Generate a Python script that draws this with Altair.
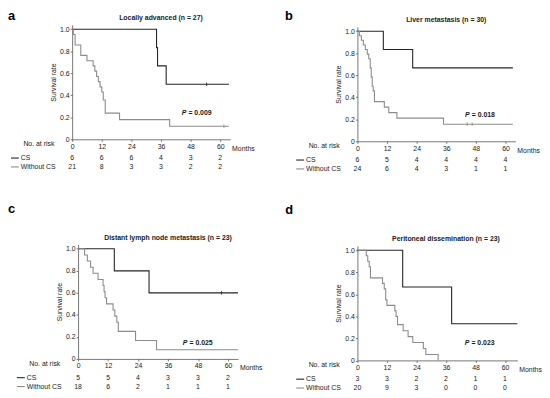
import altair as alt
import pandas as pd

FONT = "Liberation Sans"
CS_COLOR = "#262626"
WO_COLOR = "#8c8c8c"
TXT = "#1a1a1a"
AX = "#555555"

month_ticks = [0, 12, 24, 36, 48, 60]
survival_ticks = [0, 0.2, 0.4, 0.6, 0.8, 1.0]
groups = ["CS", "Without CS"]

# ---- panel a: Locally advanced
a_cs_t = [0, 34.2, 34.6, 38.1, 63.5]
a_cs_s = [1.0, 0.833, 0.667, 0.5, 0.5]
a_wo_t = [0, 0.5, 1.2, 3.5, 6.0, 8.5, 9.2, 9.9, 10.6, 11.3, 12.0, 12.6, 13.4, 19.2, 39.5, 63.5]
a_wo_s = [1.0, 0.952, 0.857, 0.762, 0.714, 0.667, 0.619, 0.571, 0.524, 0.476, 0.429, 0.357, 0.238, 0.179, 0.119, 0.119]
a_cs_cens_t, a_cs_cens_s = [54.5], [0.5]
a_wo_cens_t, a_wo_cens_s = [61.5], [0.119]
a_risk_cs = [6, 6, 6, 4, 3, 2]
a_risk_wo = [21, 8, 3, 3, 2, 2]

# ---- panel b: Liver metastasis
b_cs_t = [0, 10.5, 22.4, 63.0]
b_cs_s = [1.0, 0.833, 0.667, 0.667]
b_wo_t = [0, 0.8, 1.6, 2.4, 3.2, 4.0, 4.6, 5.2, 5.6, 6.0, 6.4, 6.9, 10.9, 12.7, 16.0, 34.9, 63.0]
b_wo_s = [1.0, 0.958, 0.917, 0.875, 0.833, 0.792, 0.75, 0.667, 0.583, 0.5, 0.458, 0.36, 0.31, 0.26, 0.21, 0.155, 0.155]
b_cs_cens_t, b_cs_cens_s = [], []
b_wo_cens_t, b_wo_cens_s = [44.5, 46.5], [0.155, 0.155]
b_risk_cs = [6, 5, 4, 4, 4, 4]
b_risk_wo = [24, 6, 4, 3, 1, 1]

# ---- panel c: Distant lymph node metastasis
c_cs_t = [0, 14.5, 28.4, 64.0]
c_cs_s = [1.0, 0.8, 0.6, 0.6]
c_wo_t = [0, 2.6, 3.7, 5.0, 6.0, 8.0, 10.0, 10.4, 10.8, 11.4, 14.0, 14.7, 15.5, 16.1, 23.0, 31.4, 64.0]
c_wo_s = [1.0, 0.944, 0.889, 0.833, 0.778, 0.722, 0.667, 0.611, 0.556, 0.5, 0.444, 0.389, 0.333, 0.25, 0.167, 0.083, 0.083]
c_cs_cens_t, c_cs_cens_s = [57.4], [0.6]
c_wo_cens_t, c_wo_cens_s = [], []
c_risk_cs = [5, 5, 4, 3, 3, 2]
c_risk_wo = [18, 6, 2, 1, 1, 1]

# ---- panel d: Peritoneal dissemination
d_cs_t = [0, 18.4, 38.3, 65.0]
d_cs_s = [1.0, 0.667, 0.333, 0.333]
d_wo_t = [0, 3.6, 4.2, 4.8, 5.3, 10.2, 10.9, 11.5, 12.0, 15.2, 15.7, 16.3, 18.6, 20.6, 22.5, 26.8, 27.8, 32.8]
d_wo_s = [1.0, 0.95, 0.9, 0.85, 0.75, 0.7, 0.65, 0.55, 0.5, 0.45, 0.4, 0.325, 0.27, 0.216, 0.162, 0.108, 0.054, 0.0]
d_cs_cens_t, d_cs_cens_s = [], []
d_wo_cens_t, d_wo_cens_s = [], []
d_risk_cs = [3, 3, 2, 2, 1, 1]
d_risk_wo = [20, 9, 3, 0, 0, 0]

H = 116


def panel(letter, title, pval, cs_t, cs_s, wo_t, wo_s, cens_cs, cens_wo,
          risk_cs, risk_wo, p_x, p_y, xmax, W, letter_x, letter_y, sx=0, sy=0):
    # sx / sy: inset of the plot frame inside its panel cell (pixels)
    xs = alt.Scale(domain=[0, xmax], nice=False, zero=True, range=[sx, sx + W])
    ys = alt.Scale(domain=[0, 1.04], nice=False, range=[sy + H, sy])
    cscale = alt.Scale(domain=groups, range=[CS_COLOR, WO_COLOR])
    x_axis = alt.Axis(values=month_ticks, title=None, format="d")
    y_axis = alt.Axis(values=survival_ticks, title="Survival rate", titlePadding=3, offset=-sx,
                      labelExpr="datum.value == 0 ? '0' : format(datum.value, '.1f')")

    curves = pd.DataFrame({
        "t": cs_t + wo_t,
        "s": cs_s + wo_s,
        "g": ["CS"] * len(cs_t) + ["Without CS"] * len(wo_t),
    })
    lines = alt.Chart(curves).mark_line(interpolate="step-after", strokeWidth=1.1).encode(
        x=alt.X("t:Q", scale=xs, axis=x_axis),
        y=alt.Y("s:Q", scale=ys, axis=y_axis),
        color=alt.Color("g:N", scale=cscale, legend=None),
    )

    cens = pd.DataFrame({
        "t": cens_cs[0] + cens_wo[0],
        "s": cens_cs[1] + cens_wo[1],
        "g": ["CS"] * len(cens_cs[0]) + ["Without CS"] * len(cens_wo[0]),
    })
    layers = [lines]
    if len(cens):
        layers.append(alt.Chart(cens).mark_point(shape="M0,-1L0,1", size=12, strokeWidth=0.9,
                                                 filled=False, opacity=1).encode(
            x=alt.X("t:Q", scale=xs, axis=x_axis), y=alt.Y("s:Q", scale=ys, axis=y_axis),
            color=alt.Color("g:N", scale=cscale, legend=None)))

    # title and letter
    tdf = pd.DataFrame({"label": [title], "t": [36.0]})
    layers.append(alt.Chart(tdf).mark_text(font=FONT, fontSize=7, fontWeight="bold", color=TXT,
                                           baseline="middle").encode(
        x=alt.X("t:Q", scale=xs, axis=x_axis), y=alt.value(sy - 6.7), text="label:N"))
    ldf = pd.DataFrame({"label": [letter]})
    layers.append(alt.Chart(ldf).mark_text(font=FONT, fontSize=13, fontWeight="bold", color="#000",
                                           align="left", baseline="alphabetic").encode(
        x=alt.value(sx + letter_x), y=alt.value(sy + letter_y), text="label:N"))

    # P value
    pdf1 = pd.DataFrame({"label": ["P"], "t": [p_x], "s": [p_y]})
    pdf2 = pd.DataFrame({"label": ["= " + pval], "t": [p_x], "s": [p_y]})
    layers.append(alt.Chart(pdf1).mark_text(font=FONT, fontSize=7, fontWeight="bold", fontStyle="italic",
                                            color=TXT, align="left", baseline="middle").encode(
        x=alt.X("t:Q", scale=xs, axis=x_axis), y=alt.Y("s:Q", scale=ys, axis=y_axis), text="label:N"))
    layers.append(alt.Chart(pdf2).mark_text(font=FONT, fontSize=7, fontWeight="bold",
                                            color=TXT, align="left", baseline="middle", dx=6.8).encode(
        x=alt.X("t:Q", scale=xs, axis=x_axis), y=alt.Y("s:Q", scale=ys, axis=y_axis), text="label:N"))

    # axis extras
    mdf = pd.DataFrame({"label": ["Months"]})
    layers.append(alt.Chart(mdf).mark_text(font=FONT, fontSize=7, color=TXT, align="left",
                                           baseline="middle").encode(
        x=alt.value(sx + W + 2), y=alt.value(sy + H + 9.5), text="label:N"))
    ndf = pd.DataFrame({"label": ["No. at risk"]})
    layers.append(alt.Chart(ndf).mark_text(font=FONT, fontSize=7, color=TXT, align="right",
                                           baseline="middle").encode(
        x=alt.value(sx - 18), y=alt.value(sy + H + 4.7), text="label:N"))

    # risk table
    for grp, vals, dy, col in [("CS", risk_cs, 19, CS_COLOR), ("Without CS", risk_wo, 28, WO_COLOR)]:
        rdf = pd.DataFrame({"t": month_ticks, "n": [str(v) for v in vals]})
        layers.append(alt.Chart(rdf).mark_text(font=FONT, fontSize=7, color=TXT,
                                               baseline="middle").encode(
            x=alt.X("t:Q", scale=xs, axis=x_axis), y=alt.value(sy + H + dy), text="n:N"))
        gdf = pd.DataFrame({"label": [grp]})
        layers.append(alt.Chart(gdf).mark_text(font=FONT, fontSize=7, color=TXT, align="left",
                                               baseline="middle").encode(
            x=alt.value(sx - 52), y=alt.value(sy + H + dy), text="label:N"))
        layers.append(alt.Chart(gdf).mark_rule(color=col, strokeWidth=1.1).encode(
            x=alt.value(sx - 62), x2=alt.value(sx - 54), y=alt.value(sy + H + dy)))

    return alt.layer(*layers).properties(width=W + sx, height=H + sy)


pa = panel("a", "Locally advanced (n = 27)", "0.009", a_cs_t, a_cs_s, a_wo_t, a_wo_s,
           (a_cs_cens_t, a_cs_cens_s), (a_wo_cens_t, a_wo_cens_s), a_risk_cs, a_risk_wo,
           44.4, 0.242, 64, 160, -65, -5.2)
pb = panel("b", "Liver metastasis (n = 30)", "0.018", b_cs_t, b_cs_s, b_wo_t, b_wo_s,
           (b_cs_cens_t, b_cs_cens_s), (b_wo_cens_t, b_wo_cens_s), b_risk_cs, b_risk_wo,
           43.6, 0.238, 64, 160, -73.4, -7.2, sx=0, sy=2)
pc = panel("c", "Distant lymph node metastasis (n = 23)", "0.025", c_cs_t, c_cs_s, c_wo_t, c_wo_s,
           (c_cs_cens_t, c_cs_cens_s), (c_wo_cens_t, c_wo_cens_s), c_risk_cs, c_risk_wo,
           41.9, 0.142, 64, 162, -71, -31.5, sx=6, sy=0)
pd_ = panel("d", "Peritoneal dissemination (n = 23)", "0.023", d_cs_t, d_cs_s, d_wo_t, d_wo_s,
            (d_cs_cens_t, d_cs_cens_s), (d_wo_cens_t, d_wo_cens_s), d_risk_cs, d_risk_wo,
            43.6, 0.154, 65, 162, -73, -32.8, sx=0, sy=1.5)

row1 = alt.concat(pa, pb, columns=2, align="none", spacing=30)
row2 = alt.concat(pc, pd_, columns=2, align="none", spacing=23)
chart = alt.concat(row1, row2, columns=1, align="none", spacing=31.5,
                   padding={"top": -1.5, "left": 0, "right": 0, "bottom": 0},
                   background="white").configure_view(
    stroke=None
).configure_axis(
    grid=False, domainColor=AX, tickColor=AX, domainWidth=0.8, tickWidth=0.8,
    tickSize=2, labelPadding=1, labelOverlap=False, labelFlush=False,
    labelFont=FONT, labelFontSize=7, labelColor=TXT,
    titleFont=FONT, titleFontSize=7, titleFontWeight="normal", titleColor=TXT,
)

chart.save("out.html", embed_options={"renderer": "svg", "actions": False})
